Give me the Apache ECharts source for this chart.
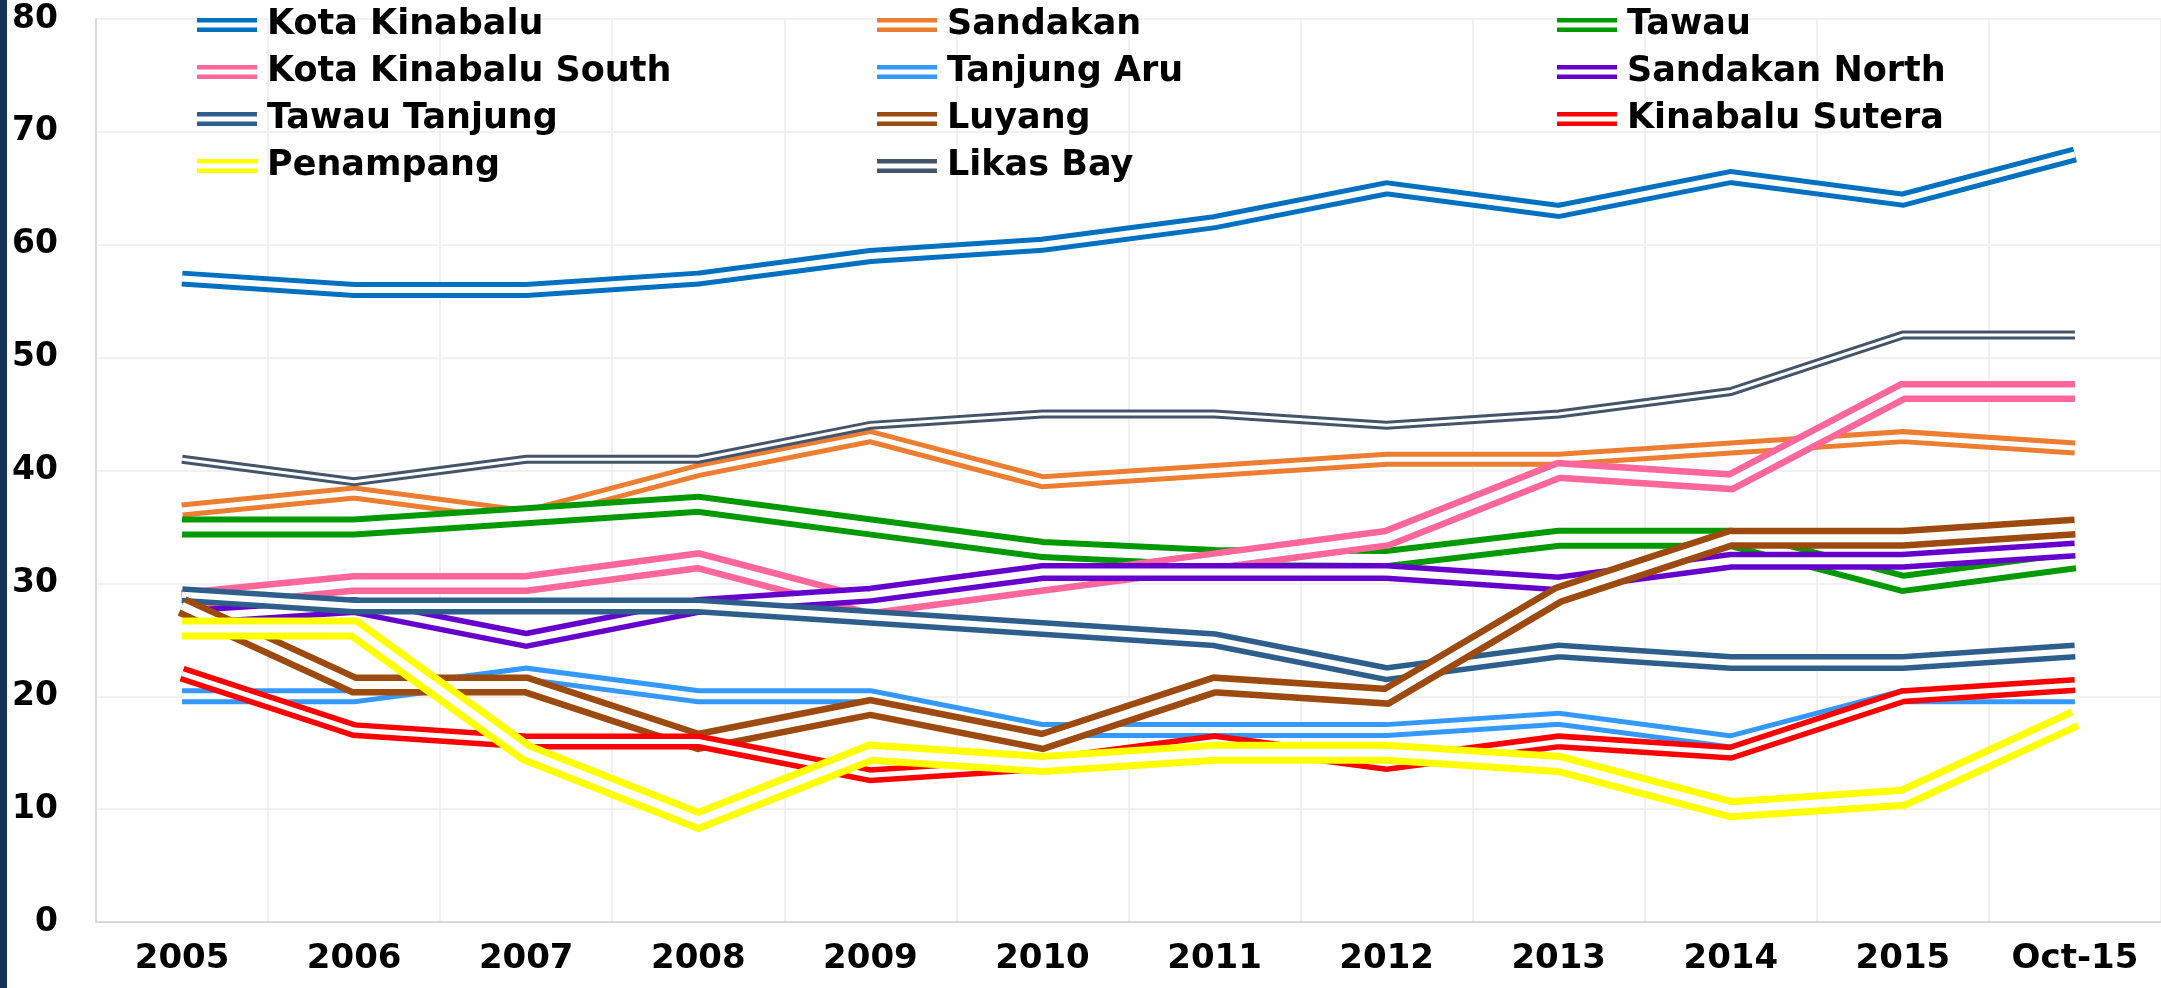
<!DOCTYPE html>
<html lang="en">

<head>
    <meta charset="UTF-8">
    <title>Sabah Towns</title>
    <script src="https://cdn.jsdelivr.net/npm/echarts@6/dist/echarts.min.js"></script>
    <style>
        html, body {
            margin: 0;
            padding: 0;
            background: #fff;
        }
        #chart-container {
            width: 2161px;
            height: 988px;
        }
    </style>
</head>

<body>
    <div id="chart-container"></div>

    <script>
        const categories = ['2005', '2006', '2007', '2008', '2009', '2010', '2011', '2012', '2013', '2014', '2015', 'Oct-15'];

        const kotaKinabalu = [57, 56, 56, 57, 59, 60, 62, 65, 63, 66, 64, 68];
        const sandakan = [36.5, 38, 36, 40, 43, 39, 40, 41, 41, 42, 43, 42];
        const tawau = [35, 35, 36, 37, 35, 33, 32.3, 32.2, 34, 34, 30, 32];
        const kotaKinabaluSouth = [28.5, 30, 30, 32, 28, 30, 32, 34, 40, 39, 47, 47];
        const tanjungAru = [20, 20, 22, 20, 20, 17, 17, 17, 18, 16, 20, 20];
        const sandakanNorth = [27, 28, 25, 28, 29, 31, 31, 31, 30, 32, 32, 33];
        const tawauTanjung = [29, 28, 28, 28, 27, 26, 25, 22, 24, 23, 23, 24];
        const luyang = [28, 21, 21, 16, 19, 16, 21, 20, 29, 34, 34, 35];
        const kinabaluSutera = [22, 17, 16, 16, 13, 14, 16, 14, 16, 15, 20, 21];
        const penampang = [26, 26, 15, 9, 15, 14, 15, 15, 14, 10, 11, 18];
        const likasBay = [41, 39, 41, 41, 44, 45, 45, 44, 45, 47, 52, 52];

        const yTicks = [0, 10, 20, 30, 40, 50, 60, 70, 80];

        // name, values, colour, outer width, inner (white) width -> double line look
        const lines = [
            ['Kota Kinabalu', kotaKinabalu, '#0070C0', 16, 6],
            ['Sandakan', sandakan, '#ED7D31', 15, 5],
            ['Tawau', tawau, '#009900', 21, 9],
            ['Kota Kinabalu South', kotaKinabaluSouth, '#FF6699', 21, 8],
            ['Tanjung Aru', tanjungAru, '#3399FF', 16, 6],
            ['Sandakan North', sandakanNorth, '#6600CC', 18, 7],
            ['Tawau Tanjung', tawauTanjung, '#2E5F8C', 17, 6],
            ['Luyang', luyang, '#9C4A10', 21, 8],
            ['Kinabalu Sutera', kinabaluSutera, '#FF0000', 16, 5],
            ['Penampang', penampang, '#FFFF00', 22, 8],
            ['Likas Bay', likasBay, '#44546A', 9, 3]
        ];

        const seriesData = [];
        lines.forEach(([name, values, color, outer, inner]) => {
            seriesData.push({
                name: name,
                type: 'line',
                data: values,
                symbol: 'none',
                silent: true,
                color: color,
                lineStyle: { color: color, width: outer, join: 'miter' }
            });
            seriesData.push({
                name: 'gap ' + name,
                type: 'line',
                data: values,
                symbol: 'none',
                silent: true,
                color: '#fff',
                lineStyle: { color: '#fff', width: inner, join: 'miter' }
            });
        });

        const font = 'DejaVu Sans';
        const legendBase = {
            orient: 'vertical',
            top: 7,
            padding: 0,
            itemWidth: 60,
            itemHeight: 14,
            itemGap: 11,
            icon: 'path://M0,0H60V4.5H0Z M0,9.5H60V14H0Z',
            selectedMode: false,
            textStyle: {
                fontFamily: font,
                fontWeight: 'bold',
                fontSize: 35,
                lineHeight: 36,
                color: '#000',
                padding: [0, 0, 0, 5]
            }
        };

        const chart = echarts.init(document.getElementById('chart-container'));
        chart.setOption({
            animation: false,
            backgroundColor: '#fff',
            graphic: [{
                type: 'rect',
                left: 0,
                top: 0,
                shape: { width: 7, height: 988 },
                style: { fill: '#133458' }
            }],
            legend: [
                Object.assign({}, legendBase, { left: 197, data: ['Kota Kinabalu', 'Kota Kinabalu South', 'Tawau Tanjung', 'Penampang'] }),
                Object.assign({}, legendBase, { left: 877, data: ['Sandakan', 'Tanjung Aru', 'Luyang', 'Likas Bay'] }),
                Object.assign({}, legendBase, { left: 1557, data: ['Tawau', 'Sandakan North', 'Kinabalu Sutera'] })
            ],
            grid: {
                left: 96,
                right: 0,
                top: 19,
                bottom: 66
            },
            xAxis: {
                type: 'category',
                data: categories,
                boundaryGap: true,
                axisLine: { lineStyle: { color: '#d9d9d9', width: 2 } },
                axisTick: { show: false },
                splitLine: { show: true, lineStyle: { color: '#ececec', width: 1.5 } },
                axisLabel: {
                    color: '#000',
                    fontFamily: font,
                    fontWeight: 'bold',
                    fontSize: 34,
                    margin: 20
                }
            },
            yAxis: {
                type: 'value',
                min: yTicks[0],
                max: yTicks[yTicks.length - 1],
                interval: 10,
                axisLine: { show: true, lineStyle: { color: '#d9d9d9', width: 2 } },
                axisTick: { show: false },
                splitLine: { lineStyle: { color: '#ececec', width: 1.5 } },
                axisLabel: {
                    color: '#000',
                    fontFamily: font,
                    fontWeight: 'bold',
                    fontSize: 33,
                    margin: 38
                }
            },
            series: seriesData
        });
    </script>
</body>

</html>
